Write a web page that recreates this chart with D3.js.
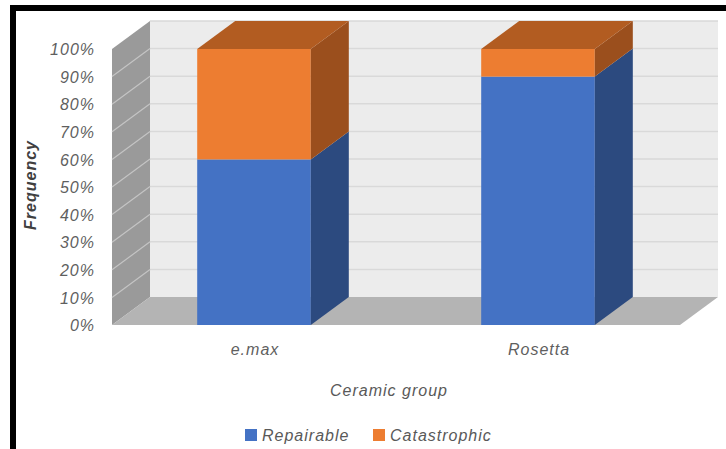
<!DOCTYPE html>
<html>
<head>
<meta charset="utf-8">
<script src="https://cdn.jsdelivr.net/npm/d3@7"></script>
<style>
  html, body { margin: 0; padding: 0; background: #ffffff; }
  svg { display: block; }
  text { font-family: "Liberation Sans", Arial, sans-serif; font-style: italic; }
</style>
</head>
<body>
<svg id="chart" width="726" height="449"></svg>
<script>
// ---- data ----
const categories = ["e.max", "Rosetta"];
const seriesNames = ["Repairable", "Catastrophic"];
const repairable = [0.60, 0.90];
const catastrophic = [0.40, 0.10];
const tickValues = [0, 0.1, 0.2, 0.3, 0.4, 0.5, 0.6, 0.7, 0.8, 0.9, 1.0];
const xTitle = "Ceramic group";
const yTitle = "Frequency";

// ---- layout ----
const W = 726, H = 449;
const svg = d3.select("#chart");
const frontLeft = 112, frontRight = 680;
const DX = 38, DY = -28;
const x = d3.scaleBand().domain(categories).range([frontLeft, frontRight]).padding(0);
const y = d3.scaleLinear().domain([0, 1]).range([325, 49]);
const barFrac = 0.4;

const colors = {
  Repairable: { front: "#4472c4", side: "#2c4a7f", top: "#3a63ad" },
  Catastrophic: { front: "#ed7d31", side: "#9b4f1d", top: "#b25c21" }
};

// frame
svg.append("rect").attr("x", 10).attr("y", 5).attr("width", W - 10).attr("height", 6).attr("fill", "#000");
svg.append("rect").attr("x", 10).attr("y", 5).attr("width", 6).attr("height", H - 5).attr("fill", "#000");

// back wall
const bx0 = frontLeft + DX, bx1 = frontRight + DX;
svg.append("rect")
  .attr("x", bx0).attr("y", y(1) + DY)
  .attr("width", bx1 - bx0).attr("height", y(0) - y(1))
  .attr("fill", "#ececec");
svg.append("g").selectAll("line").data(tickValues.filter(t => t > 0)).join("line")
  .attr("x1", bx0).attr("x2", bx1)
  .attr("y1", d => y(d) + DY).attr("y2", d => y(d) + DY)
  .attr("stroke", "#d9d9d9").attr("stroke-width", 1.5);

// left wall
svg.append("polygon")
  .attr("points", [[frontLeft, y(0)], [bx0, y(0) + DY], [bx0, y(1) + DY], [frontLeft, y(1)]].join(" "))
  .attr("fill", "#9a9a9a");
svg.append("g").selectAll("line").data(tickValues.filter(t => t > 0 && t < 1)).join("line")
  .attr("x1", frontLeft).attr("x2", bx0)
  .attr("y1", d => y(d)).attr("y2", d => y(d) + DY)
  .attr("stroke", "#c4c4c4").attr("stroke-width", 1.2);

// floor
svg.append("polygon")
  .attr("points", [[frontLeft, y(0)], [frontRight, y(0)], [bx1, y(0) + DY], [bx0, y(0) + DY]].join(" "))
  .attr("fill", "#b4b4b4");

// bars
const stackData = categories.map((c, i) => ({ cat: c, Repairable: repairable[i], Catastrophic: catastrophic[i] }));
const stacked = d3.stack().keys(seriesNames)(stackData);
const bars = svg.append("g");
categories.forEach((c, i) => {
  const bw = x.bandwidth() * barFrac;
  const x0 = x(c) + (x.bandwidth() - bw) / 2;
  const x1 = x0 + bw;
  stacked.forEach((s, si) => {
    const lo = s[i][0], hi = s[i][1];
    if (hi - lo <= 0) return;
    const col = colors[s.key];
    const g = bars.append("g");
    g.append("rect").attr("x", x0).attr("y", y(hi)).attr("width", bw).attr("height", y(lo) - y(hi)).attr("fill", col.front);
    g.append("polygon")
      .attr("points", [[x1, y(hi)], [x1 + DX, y(hi) + DY], [x1 + DX, y(lo) + DY], [x1, y(lo)]].join(" "))
      .attr("fill", col.side);
    if (si === stacked.length - 1) {
      g.append("polygon")
        .attr("points", [[x0, y(hi)], [x1, y(hi)], [x1 + DX, y(hi) + DY], [x0 + DX, y(hi) + DY]].join(" "))
        .attr("fill", col.top);
    }
  });
});

// y axis labels
const yAxis = svg.append("g").attr("transform", "translate(95,0)")
  .call(d3.axisLeft(y).tickValues(tickValues).tickFormat(d3.format(".0%")).tickSize(0).tickPadding(0));
yAxis.select(".domain").remove();
yAxis.selectAll("text")
  .attr("font-family", "Liberation Sans, Arial, sans-serif")
  .attr("font-style", "italic")
  .attr("font-size", 16).attr("fill", "#5f5f5f").attr("letter-spacing", 1)
  .attr("dy", "0.35em");

// x category labels
svg.append("g").selectAll("text").data(categories).join("text")
  .attr("x", d => x(d) + x.bandwidth() / 2 + 1)
  .attr("y", 349).attr("dy", "0.35em")
  .attr("text-anchor", "middle")
  .attr("font-size", 16).attr("fill", "#5f5f5f").attr("letter-spacing", 1)
  .text(d => d);

// axis titles
svg.append("text").attr("x", 389).attr("y", 390).attr("dy", "0.35em")
  .attr("text-anchor", "middle").attr("font-size", 16).attr("fill", "#595959").attr("letter-spacing", 1)
  .text(xTitle);
svg.append("text").attr("transform", "translate(30,185) rotate(-90)").attr("dy", "0.35em")
  .attr("text-anchor", "middle").attr("font-size", 16).attr("font-weight", "bold").attr("fill", "#404040").attr("letter-spacing", 1)
  .text(yTitle);

// legend
const legendX = [245, 373];
const legend = svg.append("g").selectAll("g").data(seriesNames).join("g")
  .attr("transform", (d, i) => `translate(${legendX[i]},435)`);
legend.append("rect").attr("x", 0).attr("y", -6).attr("width", 12).attr("height", 12).attr("fill", d => colors[d].front);
legend.append("text").attr("x", 17).attr("y", 0).attr("dy", "0.35em")
  .attr("font-size", 16).attr("fill", "#595959").attr("letter-spacing", 1)
  .text(d => d);
</script>
</body>
</html>
